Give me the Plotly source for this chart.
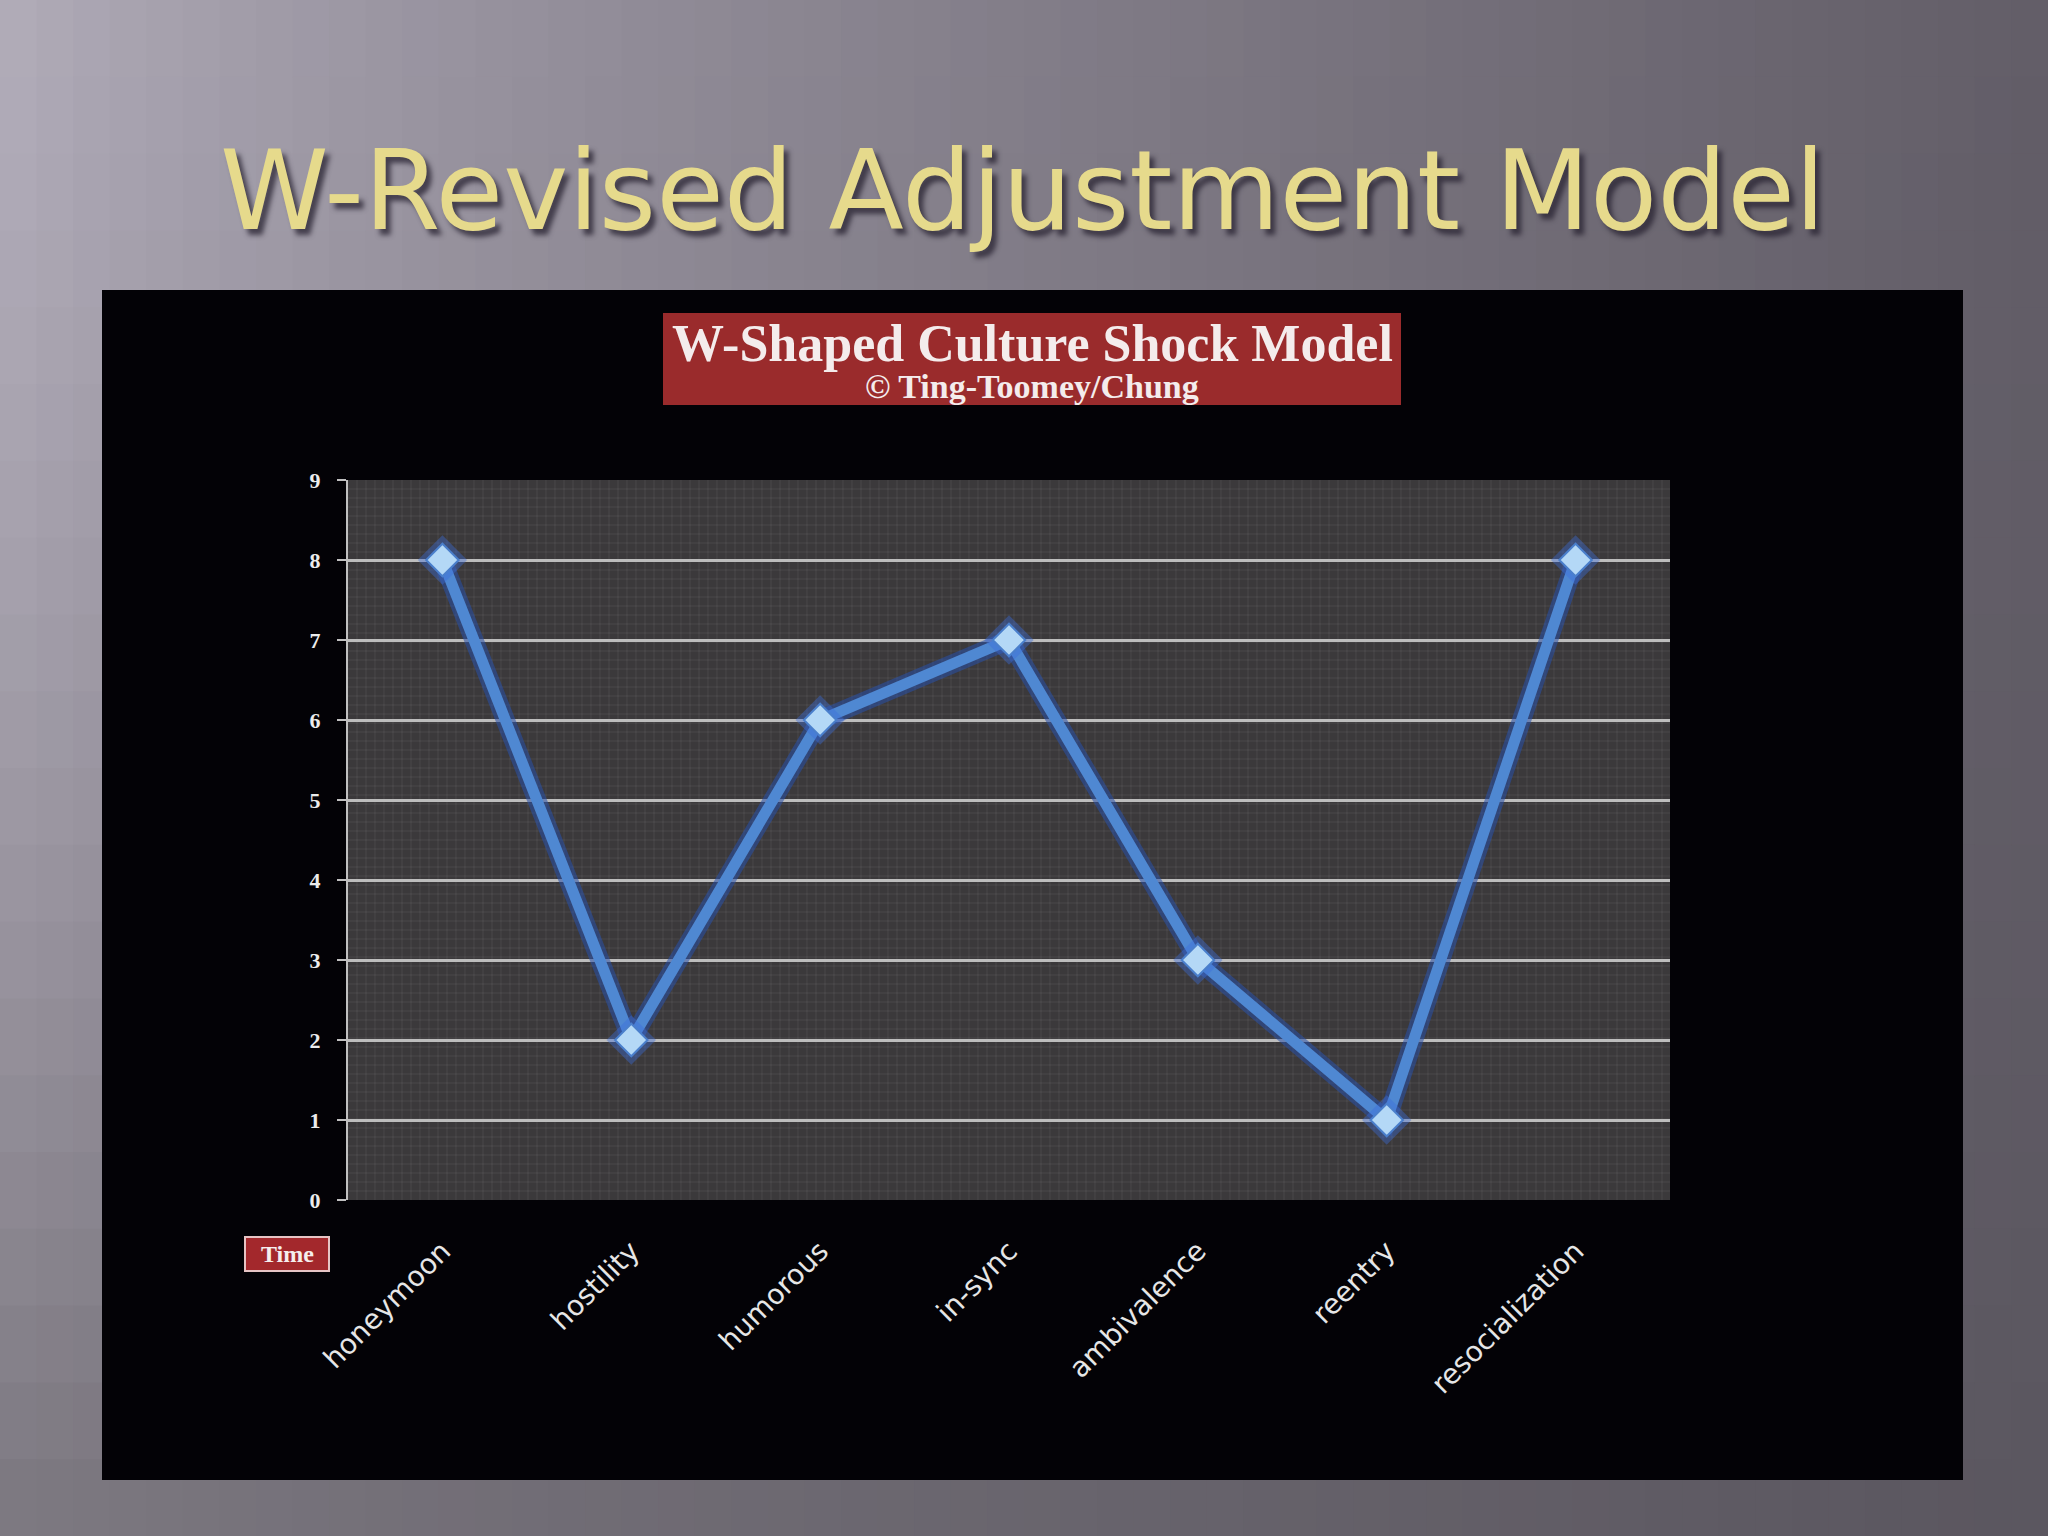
import plotly.graph_objects as go

# ---------------- data ----------------
stages = ["honeymoon", "hostility", "humorous", "in-sync", "ambivalence", "reentry", "resocialization"]
adjustment = [8, 2, 6, 7, 3, 1, 8]
y_ticks = [0, 1, 2, 3, 4, 5, 6, 7, 8, 9]

page_title = "W-Revised Adjustment Model"
chart_title = "W-Shaped Culture Shock Model"
chart_subtitle = "\u00a9 Ting-Toomey/Chung"
x_axis_label = "Time"

# ---------------- geometry helpers (pixels -> paper) ----------------
W, H = 2048, 1536
L, R, T, B = 348, 1670, 480, 1200


def fx(px):
    return (px - L) / (R - L)


def fy(py):
    return (B - py) / (B - T)


def mix(c1, c2, t):
    return tuple(a + (b - a) * t for a, b in zip(c1, c2))


def hexc(c):
    return "#%02x%02x%02x" % tuple(int(round(v)) for v in c)


shapes = []
# background gradient (grid of cells, bilinear between corner colours)
TL, TR = (0xb2, 0xad, 0xba), (0x62, 0x5d, 0x67)
BL, BR = (0x7c, 0x78, 0x80), (0x5a, 0x56, 0x5f)
nx, ny = 56, 20
for i in range(nx):
    for j in range(ny):
        tx = ((i + 0.5) / nx) ** 0.75
        ty = ((j + 0.5) / ny) ** 1.6
        top = mix(TL, TR, tx)
        bot = mix(BL, BR, tx)
        c = mix(top, bot, ty)
        shapes.append(dict(type="rect", xref="paper", yref="paper", layer="below",
                           x0=fx(W * i / nx), x1=fx(W * (i + 1) / nx + 1),
                           y0=fy(H * (j + 1) / ny + 1), y1=fy(H * j / ny),
                           fillcolor=hexc(c), line=dict(width=0)))
# black chart box
shapes.append(dict(type="rect", xref="paper", yref="paper", layer="below",
                   x0=fx(102), x1=fx(1963), y0=fy(1480), y1=fy(290),
                   fillcolor="#030206", line=dict(width=0)))
# plot area
shapes.append(dict(type="rect", xref="paper", yref="paper", layer="below",
                   x0=0, x1=1, y0=0, y1=1,
                   fillcolor="#3b393b", line=dict(width=0)))
# plot area texture (fine grid)
path = []
step = 9
x = L + step
while x < R:
    path.append("M %.5f 0 L %.5f 1" % (fx(x), fx(x)))
    x += step
y = T + step
while y < B:
    path.append("M 0 %.5f L 1 %.5f" % (fy(y), fy(y)))
    y += step
shapes.append(dict(type="path", xref="paper", yref="paper", layer="below",
                   path=" ".join(path), line=dict(color="rgba(255,255,255,0.08)", width=1)))
# chart title box
shapes.append(dict(type="rect", xref="paper", yref="paper", layer="below",
                   x0=fx(663), x1=fx(1401), y0=fy(405), y1=fy(313),
                   fillcolor="#9a2b2c", line=dict(width=0)))
# Time box
shapes.append(dict(type="rect", xref="paper", yref="paper", layer="above",
                   x0=fx(245), x1=fx(329), y0=fy(1271), y1=fy(1237),
                   fillcolor="#a3282c", line=dict(color="#e6c4c4", width=2)))

annotations = [
    dict(text=page_title, xref="paper", yref="paper", x=fx(1022), y=fy(191),
         xanchor="center", yanchor="middle", showarrow=False,
         font=dict(family="DejaVu Sans, Arial", size=110, color="#e6da8c",
                   shadow="5px 6px 5px rgba(40,35,50,0.75)")),
    dict(text=chart_title, xref="paper", yref="paper", x=fx(1032), y=fy(343),
         xanchor="center", yanchor="middle", showarrow=False,
         font=dict(family="Liberation Serif, Times New Roman", size=52, color="#f4ecec", weight="bold")),
    dict(text=chart_subtitle, xref="paper", yref="paper", x=fx(1032), y=fy(386),
         xanchor="center", yanchor="middle", showarrow=False,
         font=dict(family="Liberation Serif, Times New Roman", size=34, color="#f4ecec", weight="bold")),
    dict(text=x_axis_label, xref="paper", yref="paper", x=fx(287), y=fy(1254),
         xanchor="center", yanchor="middle", showarrow=False,
         font=dict(family="Liberation Serif, Times New Roman", size=24, color="#f6eeee", weight="bold")),
]

fig = go.Figure()
# glow under the line
fig.add_trace(go.Scatter(x=stages, y=adjustment, mode="lines",
                         line=dict(color="rgba(40,80,170,0.55)", width=19),
                         hoverinfo="skip", showlegend=False))
fig.add_trace(go.Scatter(x=stages, y=adjustment, mode="lines",
                         line=dict(color="#4f88d2", width=11),
                         showlegend=False))
# marker glow
fig.add_trace(go.Scatter(x=stages, y=adjustment, mode="markers",
                         marker=dict(symbol="diamond", size=38, color="rgba(60,110,220,0.40)",
                                     line=dict(width=0)),
                         hoverinfo="skip", showlegend=False))
fig.add_trace(go.Scatter(x=stages, y=adjustment, mode="markers",
                         marker=dict(symbol="diamond", size=25, color="#b4d8f6",
                                     line=dict(color="#4a7fcc", width=2)),
                         showlegend=False))

fig.update_layout(
    width=W, height=H, autosize=False,
    margin=dict(l=L, r=W - R, t=T, b=H - B, pad=0),
    paper_bgcolor="#7c7782",
    plot_bgcolor="rgba(0,0,0,0)",
    shapes=shapes,
    annotations=annotations,
    xaxis=dict(type="category", range=[-0.5, 6.5], showgrid=False, zeroline=False,
               showline=False, ticks="", tickangle=-45,
               tickfont=dict(family="DejaVu Sans, Arial", size=28, color="#e6e6e6"),
               ticklabelstandoff=28),
    yaxis=dict(range=[0, 9], tickvals=y_ticks, showgrid=True, gridcolor="#bdbdbd", gridwidth=3,
               zeroline=False, showline=True, linecolor="#c0c0c0", linewidth=2,
               ticks="outside", ticklen=9, tickwidth=2, tickcolor="#c0c0c0",
               tickfont=dict(family="Liberation Serif, Times New Roman", size=22, color="#ececec",
                             weight="bold"),
               ticklabelstandoff=12),
)

fig.write_html("out.html", config={"displayModeBar": False},
               post_script="document.body.style.margin='0';")
